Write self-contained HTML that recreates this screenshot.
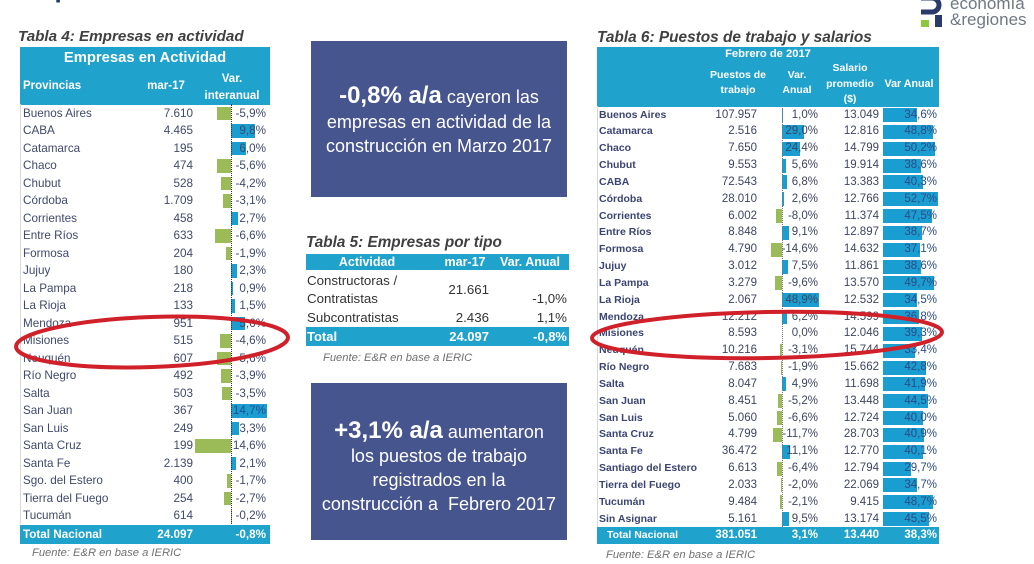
<!DOCTYPE html>
<html><head><meta charset="utf-8">
<style>
*{margin:0;padding:0;box-sizing:border-box}
body{width:1034px;height:564px;background:#fff;position:relative;overflow:hidden;font-family:"Liberation Sans",sans-serif}
.a{position:absolute;white-space:nowrap}
.ttl{font-weight:bold;font-style:italic;color:#404040}
.hdr{position:absolute;background:#1fa2cc}
.w{color:#fff;font-weight:bold}
.fn{font-style:italic;color:#707070;font-size:11.2px}
/* left table rows */
.lr{position:absolute;left:20px;width:250px;height:17.5px;line-height:17.5px;font-size:11.7px;color:#3f4a6c}
.lr span{position:absolute;white-space:nowrap}
.lr .n{left:3px}
.lr .v{right:77px}
.lr .p{right:4px}
.lr .bn{position:absolute;right:39px;top:2px;height:13.5px;background:#9bbb59}
.lr .bp{position:absolute;left:211px;top:2px;height:13.5px;background:#1a9dd0}
/* right table rows */
.rr{position:absolute;left:597px;width:342px;height:16.83px;line-height:16.83px;font-size:11.5px;color:#3d4660}
.rr span{position:absolute;white-space:nowrap}
.rr .n{left:2px;font-weight:bold;font-size:10.5px;color:#3b4572}
.rr .v{right:182px}
.rr .p1{right:121px}
.rr .s{right:60px}
.rr .p2{right:2px;color:#2d4b86}
.rr .bn{position:absolute;right:157px;top:1.5px;height:14px;background:#9bbb59}
.rr .bp{position:absolute;left:185px;top:1.5px;height:14px;background:#1a9dd0}
.rr .b2{position:absolute;left:286px;top:1.5px;height:14px;background:#1a9dd0}
.box{position:absolute;background:#47558f;color:#fff;text-align:center;font-size:18px;line-height:24.5px}
.box b{font-size:24px}
</style></head><body>

<!-- cut-off top title -->
<div class="a" style="left:14px;top:-25px;font-size:26px;line-height:26px;font-weight:bold;color:#1f3864">Empresas en actividad</div>

<!-- logo -->
<svg class="a" style="left:918px;top:0" width="28" height="30" viewBox="0 0 28 30">
<path d="M3,-2 H14 A7,7 0 0 1 14,12 H3" stroke="#2b3a6b" stroke-width="5" fill="none"/>
<rect x="3" y="20" width="8" height="7" fill="#8dc63f"/>
<rect x="17" y="15" width="7" height="12" fill="#2b3a6b"/>
</svg>
<div class="a" style="left:950px;top:-6px;font-size:17px;line-height:20px;color:#6f7983">economía</div>
<div class="a" style="left:950px;top:10px;font-size:17px;line-height:20px;color:#6f7983">&amp;regiones</div>

<!-- ============ TABLA 4 ============ -->
<div class="a ttl" style="left:18px;top:28px;font-size:15.2px;line-height:18px">Tabla 4: Empresas en actividad</div>
<div class="hdr" style="left:20px;top:47px;width:250px;height:57.5px"></div>
<div class="a w" style="left:20px;top:49px;width:250px;text-align:center;font-size:14.8px;line-height:18px">Empresas en Actividad</div>
<div class="a w" style="left:23px;top:78px;font-size:11.5px;line-height:16px">Provincias</div>
<div class="a w" style="left:136px;top:78px;width:60px;text-align:center;font-size:11.5px;line-height:16px">mar-17</div>
<div class="a w" style="left:197px;top:71px;width:70px;text-align:center;font-size:11.5px;line-height:16px">Var.</div>
<div class="a w" style="left:197px;top:88px;width:70px;text-align:center;font-size:11.5px;line-height:16px">interanual</div>
<div class="a" style="left:20px;top:104px;width:1px;height:420px;background:#d8d8d8"></div>

<div class="lr" style="top:104.5px"><i class="bn" style="width:14.5px"></i><span class="n">Buenos Aires</span><span class="v">7.610</span><span class="p">-5,9%</span></div>
<div class="lr" style="top:122px"><i class="bp" style="width:24px"></i><span class="n">CABA</span><span class="v">4.465</span><span class="p">9,8%</span></div>
<div class="lr" style="top:139.5px"><i class="bp" style="width:14.7px"></i><span class="n">Catamarca</span><span class="v">195</span><span class="p">6,0%</span></div>
<div class="lr" style="top:157px"><i class="bn" style="width:13.7px"></i><span class="n">Chaco</span><span class="v">474</span><span class="p">-5,6%</span></div>
<div class="lr" style="top:174.5px"><i class="bn" style="width:10.3px"></i><span class="n">Chubut</span><span class="v">528</span><span class="p">-4,2%</span></div>
<div class="lr" style="top:192px"><i class="bn" style="width:7.6px"></i><span class="n">Córdoba</span><span class="v">1.709</span><span class="p">-3,1%</span></div>
<div class="lr" style="top:209.5px"><i class="bp" style="width:6.6px"></i><span class="n">Corrientes</span><span class="v">458</span><span class="p">2,7%</span></div>
<div class="lr" style="top:227px"><i class="bn" style="width:16.2px"></i><span class="n">Entre Ríos</span><span class="v">633</span><span class="p">-6,6%</span></div>
<div class="lr" style="top:244.5px"><i class="bn" style="width:4.7px"></i><span class="n">Formosa</span><span class="v">204</span><span class="p">-1,9%</span></div>
<div class="lr" style="top:262px"><i class="bp" style="width:5.6px"></i><span class="n">Jujuy</span><span class="v">180</span><span class="p">2,3%</span></div>
<div class="lr" style="top:279.5px"><i class="bp" style="width:2.2px"></i><span class="n">La Pampa</span><span class="v">218</span><span class="p">0,9%</span></div>
<div class="lr" style="top:297px"><i class="bp" style="width:3.7px"></i><span class="n">La Rioja</span><span class="v">133</span><span class="p">1,5%</span></div>
<div class="lr" style="top:314.5px"><i class="bp" style="width:13.7px"></i><span class="n">Mendoza</span><span class="v">951</span><span class="p">5,6%</span></div>
<div class="lr" style="top:332px"><i class="bn" style="width:11.3px"></i><span class="n">Misiones</span><span class="v">515</span><span class="p">-4,6%</span></div>
<div class="lr" style="top:349.5px"><i class="bn" style="width:13.7px"></i><span class="n">Neuquén</span><span class="v">607</span><span class="p">-5,6%</span></div>
<div class="lr" style="top:367px"><i class="bn" style="width:9.6px"></i><span class="n">Río Negro</span><span class="v">492</span><span class="p">-3,9%</span></div>
<div class="lr" style="top:384.5px"><i class="bn" style="width:8.6px"></i><span class="n">Salta</span><span class="v">503</span><span class="p">-3,5%</span></div>
<div class="lr" style="top:402px"><i class="bp" style="width:36px"></i><span class="n">San Juan</span><span class="v">367</span><span class="p" style="color:#1f4f8e">14,7%</span></div>
<div class="lr" style="top:419.5px"><i class="bp" style="width:8.1px"></i><span class="n">San Luis</span><span class="v">249</span><span class="p">3,3%</span></div>
<div class="lr" style="top:437px"><i class="bn" style="width:35.8px"></i><span class="n">Santa Cruz</span><span class="v">199</span><span class="p">14,6%</span></div>
<div class="lr" style="top:454.5px"><i class="bp" style="width:5.1px"></i><span class="n">Santa Fe</span><span class="v">2.139</span><span class="p">2,1%</span></div>
<div class="lr" style="top:472px"><i class="bn" style="width:4.2px"></i><span class="n">Sgo. del Estero</span><span class="v">400</span><span class="p">-1,7%</span></div>
<div class="lr" style="top:489.5px"><i class="bn" style="width:6.6px"></i><span class="n">Tierra del Fuego</span><span class="v">254</span><span class="p">-2,7%</span></div>
<div class="lr" style="top:507px"><i class="bn" style="width:0.5px"></i><span class="n">Tucumán</span><span class="v">614</span><span class="p">-0,2%</span></div>
<div class="a" style="left:231px;top:104px;height:420px;border-left:1px dotted #333"></div>
<div class="hdr" style="left:20px;top:524.5px;width:250px;height:19px"></div>
<div class="lr" style="top:525px;height:19px;line-height:19px;color:#fff;font-weight:bold"><span class="n">Total Nacional</span><span class="v">24.097</span><span class="p">-0,8%</span></div>
<div class="a fn" style="left:32px;top:546px;line-height:14px">Fuente: E&amp;R en base a IERIC</div>

<!-- ============ MIDDLE ============ -->
<div class="box" style="left:311px;top:41px;width:256px;height:156px;padding-top:43px"><b>-0,8% a/a</b> cayeron las<br>empresas en actividad de la<br>construcción en Marzo 2017</div>

<div class="a ttl" style="left:306px;top:234px;font-size:15.3px;line-height:18px">Tabla 5: Empresas por tipo</div>
<div class="hdr" style="left:306px;top:254px;width:263px;height:16px"></div>
<div class="a w" style="left:317px;top:254px;width:100px;text-align:center;font-size:12.5px;line-height:16px">Actividad</div>
<div class="a w" style="left:430px;top:254px;width:70px;text-align:center;font-size:12.5px;line-height:16px">mar-17</div>
<div class="a w" style="left:495px;top:254px;width:70px;text-align:center;font-size:12.5px;line-height:16px">Var. Anual</div>
<div class="a" style="left:307px;top:272px;font-size:13.3px;line-height:18px;color:#333">Constructoras /</div>
<div class="a" style="left:307px;top:290px;font-size:13.3px;line-height:18px;color:#333">Contratistas</div>
<div class="a" style="left:409px;top:281px;width:80px;text-align:right;font-size:13.3px;line-height:18px;color:#333">21.661</div>
<div class="a" style="left:487px;top:290px;width:80px;text-align:right;font-size:13.3px;line-height:18px;color:#333">-1,0%</div>
<div class="a" style="left:307px;top:309px;font-size:13.3px;line-height:18px;color:#333">Subcontratistas</div>
<div class="a" style="left:409px;top:309px;width:80px;text-align:right;font-size:13.3px;line-height:18px;color:#333">2.436</div>
<div class="a" style="left:487px;top:309px;width:80px;text-align:right;font-size:13.3px;line-height:18px;color:#333">1,1%</div>
<div class="hdr" style="left:306px;top:327px;width:263px;height:19px"></div>
<div class="a w" style="left:307px;top:327px;font-size:13px;line-height:19px">Total</div>
<div class="a w" style="left:409px;top:327px;width:80px;text-align:right;font-size:13px;line-height:19px">24.097</div>
<div class="a w" style="left:487px;top:327px;width:80px;text-align:right;font-size:13px;line-height:19px">-0,8%</div>
<div class="a fn" style="left:323px;top:351px;line-height:14px">Fuente: E&amp;R en base a IERIC</div>

<div class="box" style="left:311px;top:383px;width:256px;height:157px;padding-top:36px;line-height:24px"><b>+3,1% a/a</b> aumentaron<br>los puestos de trabajo<br>registrados en la<br>construcción a&nbsp; Febrero 2017</div>

<!-- ============ TABLA 6 ============ -->
<div class="a ttl" style="left:597px;top:29px;font-size:15.4px;line-height:18px">Tabla 6: Puestos de trabajo y salarios</div>
<div class="hdr" style="left:597px;top:47px;width:342px;height:59.6px"></div>
<div class="a w" style="left:718px;top:47px;width:100px;text-align:center;font-size:11.2px;line-height:14px">Febrero de 2017</div>
<div class="a w" style="left:698px;top:68px;width:80px;text-align:center;font-size:10.5px;line-height:15px">Puestos de<br>trabajo</div>
<div class="a w" style="left:767px;top:68px;width:60px;text-align:center;font-size:10.5px;line-height:15px">Var.<br>Anual</div>
<div class="a w" style="left:810px;top:61px;width:80px;text-align:center;font-size:10.5px;line-height:15.5px">Salario<br>promedio<br>($)</div>
<div class="a w" style="left:874px;top:77px;width:70px;text-align:center;font-size:10.7px;line-height:15px">Var Anual</div>
<div class="a" style="left:597px;top:106px;width:1px;height:421px;background:#d8d8d8"></div>

<div class="rr" style="top:106.6px"><i class="bp" style="width:0.8px"></i><i class="b2" style="width:33.8px"></i><span class="n">Buenos Aires</span><span class="v">107.957</span><span class="p1">1,0%</span><span class="s">13.049</span><span class="p2">34,6%</span></div>
<div class="rr" style="top:123.43px"><i class="bp" style="width:21.8px"></i><i class="b2" style="width:50.1px"></i><span class="n">Catamarca</span><span class="v">2.516</span><span class="p1">29,0%</span><span class="s">12.816</span><span class="p2">48,8%</span></div>
<div class="rr" style="top:140.26px"><i class="bp" style="width:18.3px"></i><i class="b2" style="width:51.7px"></i><span class="n">Chaco</span><span class="v">7.650</span><span class="p1">24,4%</span><span class="s">14.799</span><span class="p2">50,2%</span></div>
<div class="rr" style="top:157.09px"><i class="bp" style="width:4.2px"></i><i class="b2" style="width:38.4px"></i><span class="n">Chubut</span><span class="v">9.553</span><span class="p1">5,6%</span><span class="s">19.914</span><span class="p2">38,6%</span></div>
<div class="rr" style="top:173.92px"><i class="bp" style="width:5.1px"></i><i class="b2" style="width:40.3px"></i><span class="n">CABA</span><span class="v">72.543</span><span class="p1">6,8%</span><span class="s">13.383</span><span class="p2">40,3%</span></div>
<div class="rr" style="top:190.75px"><i class="bp" style="width:2px"></i><i class="b2" style="width:54.6px"></i><span class="n">Córdoba</span><span class="v">28.010</span><span class="p1">2,6%</span><span class="s">12.766</span><span class="p2">52,7%</span></div>
<div class="rr" style="top:207.58px"><i class="bn" style="width:6px"></i><i class="b2" style="width:48.6px"></i><span class="n">Corrientes</span><span class="v">6.002</span><span class="p1">-8,0%</span><span class="s">11.374</span><span class="p2">47,5%</span></div>
<div class="rr" style="top:224.41px"><i class="bp" style="width:6.8px"></i><i class="b2" style="width:38.5px"></i><span class="n">Entre Ríos</span><span class="v">8.848</span><span class="p1">9,1%</span><span class="s">12.897</span><span class="p2">38,7%</span></div>
<div class="rr" style="top:241.24px"><i class="bn" style="width:11px"></i><i class="b2" style="width:36.7px"></i><span class="n">Formosa</span><span class="v">4.790</span><span class="p1">-14,6%</span><span class="s">14.632</span><span class="p2">37,1%</span></div>
<div class="rr" style="top:258.07px"><i class="bp" style="width:5.6px"></i><i class="b2" style="width:38.4px"></i><span class="n">Jujuy</span><span class="v">3.012</span><span class="p1">7,5%</span><span class="s">11.861</span><span class="p2">38,6%</span></div>
<div class="rr" style="top:274.9px"><i class="bn" style="width:7.2px"></i><i class="b2" style="width:51.2px"></i><span class="n">La Pampa</span><span class="v">3.279</span><span class="p1">-9,6%</span><span class="s">13.570</span><span class="p2">49,7%</span></div>
<div class="rr" style="top:291.73px"><i class="bp" style="width:36.7px"></i><i class="b2" style="width:33.7px"></i><span class="n">La Rioja</span><span class="v">2.067</span><span class="p1">48,9%</span><span class="s">12.532</span><span class="p2">34,5%</span></div>
<div class="rr" style="top:308.56px"><i class="bp" style="width:4.7px"></i><i class="b2" style="width:36.3px"></i><span class="n">Mendoza</span><span class="v">12.212</span><span class="p1">6,2%</span><span class="s">14.599</span><span class="p2">36,8%</span></div>
<div class="rr" style="top:325.39px"><i class="b2" style="width:39.2px"></i><span class="n">Misiones</span><span class="v">8.593</span><span class="p1">0,0%</span><span class="s">12.046</span><span class="p2">39,3%</span></div>
<div class="rr" style="top:342.22px"><i class="bn" style="width:2.3px"></i><i class="b2" style="width:32.4px"></i><span class="n">Neuquén</span><span class="v">10.216</span><span class="p1">-3,1%</span><span class="s">15.744</span><span class="p2">33,4%</span></div>
<div class="rr" style="top:359.05px"><i class="bn" style="width:1.4px"></i><i class="b2" style="width:43.2px"></i><span class="n">Río Negro</span><span class="v">7.683</span><span class="p1">-1,9%</span><span class="s">15.662</span><span class="p2">42,8%</span></div>
<div class="rr" style="top:375.88px"><i class="bp" style="width:3.7px"></i><i class="b2" style="width:42.2px"></i><span class="n">Salta</span><span class="v">8.047</span><span class="p1">4,9%</span><span class="s">11.698</span><span class="p2">41,9%</span></div>
<div class="rr" style="top:392.71px"><i class="bn" style="width:3.9px"></i><i class="b2" style="width:45.2px"></i><span class="n">San Juan</span><span class="v">8.451</span><span class="p1">-5,2%</span><span class="s">13.448</span><span class="p2">44,5%</span></div>
<div class="rr" style="top:409.54px"><i class="bn" style="width:5px"></i><i class="b2" style="width:40px"></i><span class="n">San Luis</span><span class="v">5.060</span><span class="p1">-6,6%</span><span class="s">12.724</span><span class="p2">40,0%</span></div>
<div class="rr" style="top:426.37px"><i class="bn" style="width:8.8px"></i><i class="b2" style="width:41px"></i><span class="n">Santa Cruz</span><span class="v">4.799</span><span class="p1">-11,7%</span><span class="s">28.703</span><span class="p2">40,9%</span></div>
<div class="rr" style="top:443.2px"><i class="bp" style="width:8.3px"></i><i class="b2" style="width:40.1px"></i><span class="n">Santa Fe</span><span class="v">36.472</span><span class="p1">11,1%</span><span class="s">12.770</span><span class="p2">40,1%</span></div>
<div class="rr" style="top:460.03px"><i class="bn" style="width:4.8px"></i><i class="b2" style="width:28.2px"></i><span class="n">Santiago del Estero</span><span class="v">6.613</span><span class="p1">-6,4%</span><span class="s">12.794</span><span class="p2">29,7%</span></div>
<div class="rr" style="top:476.86px"><i class="bn" style="width:1.5px"></i><i class="b2" style="width:33.9px"></i><span class="n">Tierra del Fuego</span><span class="v">2.033</span><span class="p1">-2,0%</span><span class="s">22.069</span><span class="p2">34,7%</span></div>
<div class="rr" style="top:493.69px"><i class="bn" style="width:1.6px"></i><i class="b2" style="width:50px"></i><span class="n">Tucumán</span><span class="v">9.484</span><span class="p1">-2,1%</span><span class="s">9.415</span><span class="p2">48,7%</span></div>
<div class="rr" style="top:510.52px"><i class="bp" style="width:7.1px"></i><i class="b2" style="width:46.3px"></i><span class="n">Sin Asignar</span><span class="v">5.161</span><span class="p1">9,5%</span><span class="s">13.174</span><span class="p2">45,5%</span></div>
<div class="a" style="left:782px;top:106px;height:421px;border-left:1px dotted #777"></div>
<div class="hdr" style="left:597px;top:527px;width:342px;height:17px"></div>
<div class="rr" style="top:527px;height:17px;line-height:17px;color:#fff;font-weight:bold"><span class="n" style="color:#fff;left:10px">Total Nacional</span><span class="v">381.051</span><span class="p1">3,1%</span><span class="s">13.440</span><span class="p2" style="color:#fff">38,3%</span></div>
<div class="a fn" style="left:606px;top:548px;line-height:14px">Fuente: E&amp;R en base a IERIC</div>

<!-- red ellipses -->
<svg class="a" style="left:0;top:0" width="1034" height="564">
<ellipse cx="152" cy="342" rx="136" ry="25" fill="none" stroke="#d0202a" stroke-width="4" transform="rotate(-2 152 342)"/>
<ellipse cx="767" cy="335" rx="175" ry="23" fill="none" stroke="#d0202a" stroke-width="4" transform="rotate(-1 767 335)"/>
</svg>

</body></html>
